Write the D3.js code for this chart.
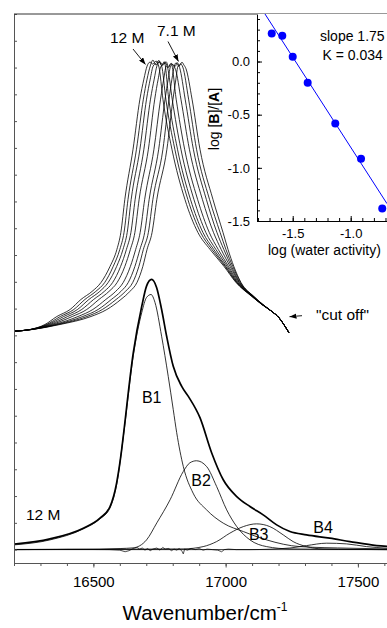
<!DOCTYPE html>
<html><head><meta charset="utf-8">
<script src="https://cdn.jsdelivr.net/npm/d3@7"></script>
<style>
body{margin:0;background:#fff}
svg{display:block}
text{font-family:"Liberation Sans",Arial,sans-serif;fill:#000}
</style>
</head><body><svg id="c" width="387" height="628"></svg>
<script>
// ---------- main spectra (wavenumber / absorbance) ----------
const upperAbs = [0.4077,0.4109,0.4203,0.4352,0.4483,0.4670,0.4820,0.4988,0.5287,0.5605,0.5923,0.6540,0.7475,0.8410,0.8784,0.9027,0.9102,0.9065,0.9121,0.9009,0.8410,0.7475,0.6540,0.5923,0.5605,0.5287,0.4988,0.4726,0.4576,0.4445,0.4333,0.4203,0.4053];
const upper12M  = [16200,16260,16317,16362,16412,16453,16495,16529,16563,16589,16604,16619,16650,16676,16691,16703,16714,16725,16737,16748,16763,16797,16846,16895,16941,16994,17039,17099,17137,17175,17201,17220,17239];
const upperB    = [16200,16261,16323,16375,16426,16468,16509,16543,16575,16600,16616,16631,16663,16689,16703,16715,16725,16736,16748,16758,16774,16808,16857,16905,16948,16998,17041,17100,17137,17175,17201,17220,17239];
const upperC    = [16200,16262,16328,16388,16440,16483,16524,16556,16588,16612,16628,16643,16676,16701,16715,16726,16737,16747,16758,16768,16785,16818,16867,16914,16955,17001,17043,17101,17138,17175,17201,17220,17239];
const upperD    = [16200,16263,16335,16403,16456,16501,16541,16573,16603,16625,16642,16658,16691,16716,16730,16740,16750,16760,16771,16781,16798,16831,16880,16925,16963,17006,17045,17102,17138,17175,17201,17220,17239];
const upperE    = [16200,16264,16343,16420,16475,16521,16559,16590,16619,16640,16657,16673,16708,16732,16745,16756,16765,16775,16784,16794,16813,16845,16894,16938,16972,17011,17048,17103,17139,17175,17201,17220,17239];
const upperF    = [16200,16265,16352,16442,16498,16547,16584,16613,16640,16660,16677,16694,16729,16754,16766,16776,16784,16793,16802,16811,16831,16863,16912,16954,16983,17017,17051,17104,17139,17175,17201,17220,17239];
const upperG    = [16200,16266,16360,16460,16518,16568,16604,16632,16657,16676,16694,16711,16747,16771,16783,16792,16800,16809,16817,16826,16847,16878,16927,16967,16993,17022,17053,17105,17140,17175,17201,17220,17239];
const upperH    = [16200,16267,16367,16476,16534,16586,16621,16649,16672,16689,16708,16725,16763,16786,16797,16806,16813,16822,16829,16838,16860,16890,16939,16979,17001,17027,17056,17106,17141,17175,17201,17220,17239];
const upper71M  = [16200,16268,16374,16491,16551,16604,16638,16665,16687,16703,16722,16740,16778,16801,16812,16820,16827,16835,16842,16850,16873,16903,16952,16990,17009,17031,17058,17107,17141,17175,17201,17220,17239];
// noisy peak-top absorbances (points 16-19) of each upper spectrum
const upperTops = [
  [0.9102,0.9065,0.9121,0.9009],
  [0.9140,0.9050,0.9100,0.9030],
  [0.9080,0.9130,0.9040,0.9110],
  [0.9120,0.9060,0.9090,0.8990],
  [0.9050,0.9110,0.9020,0.9080],
  [0.9000,0.9070,0.9040,0.8960],
  [0.9060,0.9020,0.9090,0.9000],
  [0.9090,0.9030,0.9070,0.9010],
  [0.9040,0.9100,0.9050,0.8980]
];

const totalWn = [16200,16336,16462,16525,16563,16588,16607,16613,16651,16683,16701,16720,16739,16758,16777,16802,16834,16859,16903,16947,16991,17042,17092,17142,17193,17243,17306,17394,17470,17571,17610];
const totalA  = [0.0101,0.0200,0.0400,0.0587,0.0804,0.1247,0.1865,0.2113,0.3679,0.4545,0.4919,0.5044,0.4894,0.4483,0.3983,0.3422,0.3048,0.2861,0.2463,0.1809,0.1304,0.0991,0.0804,0.0649,0.0462,0.0337,0.0275,0.0213,0.0150,0.0075,0.0060];
const b1Wn = [16200,16336,16462,16525,16563,16588,16613,16651,16683,16701,16718,16733,16758,16783,16802,16815,16840,16877,16928,16991,17067,17155,17281,17470,17610];
const b1A  = [0.0088,0.0181,0.0387,0.0574,0.0780,0.1210,0.2094,0.3622,0.4427,0.4707,0.4763,0.4614,0.3984,0.3235,0.2613,0.2183,0.1552,0.1055,0.0742,0.0494,0.0337,0.0181,0.0056,0.0026,0.0013];
const b2Wn = [16200,16525,16601,16650,16701,16740,16790,16840,16865,16890,16928,16966,17004,17042,17092,17155,17243,17610];
const b2A  = [0.0003,0.0010,0.0020,0.0032,0.0181,0.0500,0.0930,0.1459,0.1621,0.1659,0.1552,0.1178,0.0742,0.0430,0.0181,0.0056,0.0013,0];
const b3Wn = [16200,16839,16915,16966,17016,17067,17117,17167,17218,17255,17306,17368,17610];
const b3A  = [0,0.0013,0.0056,0.0150,0.0307,0.0430,0.0481,0.0430,0.0274,0.0150,0.0056,0.0013,0];
const b4Wn = [16200,17092,17243,17306,17382,17457,17533,17610];
const b4A  = [0,0,0.0030,0.0075,0.0120,0.0107,0.0056,0.0026];
const residWn = [16200,16400,16560,16600,16620,16635,16650,16665,16675,16685,16695,16705,16715,16725,16740,16752,16762,16772,16785,16795,16805,16815,16825,16835,16840,16845,16855,16870,16885,16900,16915,16930,16950,16970,16985,16995,17010,17040,17100,17300,17610];
const residA  = [0,0.0005,0,-0.001,-0.004,-0.002,0.002,0.004,0.001,0.003,-0.001,0.002,-0.002,0.001,0.003,-0.001,0.004,0.001,0.002,-0.002,0.001,-0.001,0.002,-0.003,-0.008,0.001,-0.001,0.002,0,0.002,-0.001,0.001,0,-0.001,-0.004,0,0.001,0,0,0,0];

const xMajorTicks = [16500,17000,17500];

// ---------- inset ----------
const logAw   = [-1.681,-1.590,-1.500,-1.371,-1.133,-0.911,-0.728];
const logBA   = [0.264,0.242,0.044,-0.200,-0.582,-0.915,-1.382];
const fitX    = [-1.808,-0.687];
const fitY    = [0.564,-1.337];
const insetXTicks = [-1.5,-1.0];
const insetYTicks = [-1.5,-1.0,-0.5,0.0];

// ---------- drawing ----------
const svg = d3.select("#c");
const x = d3.scaleLinear().domain([16200,17610]).range([14,387]);
const y = d3.scaleLinear().domain([-0.025,1.0]).range([563,14]);

const defs = svg.append("defs");
defs.append("clipPath").attr("id","mainClip").append("rect").attr("x",14).attr("y",14).attr("width",373).attr("height",549);
defs.append("clipPath").attr("id","insClip").append("rect").attr("x",257).attr("y",14).attr("width",130).attr("height",207);
defs.append("marker").attr("id","ah").attr("viewBox","0 0 8 6").attr("refX",8).attr("refY",3)
  .attr("markerWidth",7).attr("markerHeight",5.5).attr("markerUnits","userSpaceOnUse").attr("orient","auto")
  .append("path").attr("d","M0,0L8,3L0,6Z").attr("fill","#000");

const line = d3.line().x(d=>x(d[0])).y(d=>y(d[1])).curve(d3.curveMonotoneX);
const lineLin = d3.line().x(d=>x(d[0])).y(d=>y(d[1]));
const zip = (a,b)=>a.map((v,i)=>[v,b[i]]);

const main = svg.append("g").attr("clip-path","url(#mainClip)");
[upper12M,upperB,upperC,upperD,upperE,upperF,upperG,upperH,upper71M].forEach((w,k)=>{
  const abs = upperAbs.map((a,i)=> (i>=16 && i<=19) ? upperTops[k][i-16] : a);
  main.append("path").attr("d",line(zip(w,abs))).attr("fill","none").attr("stroke","#000").attr("stroke-width",0.8);
});
main.append("path").attr("d",lineLin(zip(residWn,residA))).attr("fill","none").attr("stroke","#222").attr("stroke-width",0.8);
[[b1Wn,b1A],[b2Wn,b2A],[b3Wn,b3A],[b4Wn,b4A]].forEach(([w,a])=>{
  main.append("path").attr("d",line(zip(w,a))).attr("fill","none").attr("stroke","#000").attr("stroke-width",0.8);
});
main.append("path").attr("d",line(zip(totalWn,totalA))).attr("fill","none").attr("stroke","#000").attr("stroke-width",1.7);

// main axes
const ax = svg.append("g").attr("transform","translate(0,563)");
ax.call(d3.axisBottom(x).tickValues(d3.range(16200,17601,100)).tickSize(3).tickSizeOuter(0).tickFormat(""));
const ax2 = svg.append("g").attr("transform","translate(0,563)");
ax2.call(d3.axisBottom(x).tickValues(xMajorTicks).tickSize(4.5).tickSizeOuter(0).tickPadding(9).tickFormat(d=>String(d)));
ax2.select(".domain").remove();
ax2.selectAll("text").attr("font-size",15).attr("font-family","Liberation Sans, Arial, sans-serif");
const ay = svg.append("g").attr("transform","translate(14,0)");
ay.call(d3.axisLeft(y).tickValues(d3.range(0,1.0001,0.05)).tickSize(-3).tickSizeOuter(0).tickFormat(""));
[ax,ax2,ay].forEach(g=>{g.selectAll("line,path").attr("stroke","#555");});
svg.append("line").attr("x1",14).attr("x2",387).attr("y1",14).attr("y2",14).attr("stroke","#333");

// main labels
svg.append("text").attr("x",205).attr("y",620).attr("text-anchor","middle").attr("font-size",20.5)
  .text("Wavenumber/cm").append("tspan").attr("font-size",12).attr("dy",-9).text("-1");
const lab=(t,xx,yy,fs,anchor)=>svg.append("text").attr("x",xx).attr("y",yy).attr("font-size",fs).attr("text-anchor",anchor||"start").text(t);
lab("12 M",110,42.5,15.5);
lab("7.1 M",157,36,15.5);
lab("\"cut off\"",316,320,15.5);
lab("B1",151.7,403,16,"middle");
lab("B2",201,486,16,"middle");
lab("B3",258.7,540,16,"middle");
lab("B4",323,533,16,"middle");
lab("12 M",26,520,15.5);
const arrow=(x1,y1,x2,y2)=>svg.append("line").attr("x1",x1).attr("y1",y1).attr("x2",x2).attr("y2",y2)
  .attr("stroke","#000").attr("stroke-width",0.9).attr("marker-end","url(#ah)");
arrow(133,49,145.5,64.5);
arrow(168,41.5,178.5,61.5);
arrow(302,315.7,289.5,316.7);

// ---------- inset ----------
const xi = d3.scaleLinear().domain([-1.808,-0.687]).range([257,387]);
const yi = d3.scaleLinear().domain([-1.5,0.447]).range([221,14]);
svg.append("rect").attr("x",257).attr("y",14).attr("width",130).attr("height",207).attr("fill","#fff");
const ins = svg.append("g").attr("clip-path","url(#insClip)");
ins.append("path").attr("d",d3.line().x(d=>xi(d[0])).y(d=>yi(d[1]))(zip(fitX,fitY)))
  .attr("fill","none").attr("stroke","#0000ff").attr("stroke-width",1);
ins.selectAll("circle").data(zip(logAw,logBA)).join("circle")
  .attr("cx",d=>xi(d[0])).attr("cy",d=>yi(d[1])).attr("r",4).attr("fill","#0000ff");

const fmt = d=>d.toFixed(1);
const iy1 = svg.append("g").attr("transform","translate(257,0)")
  .call(d3.axisLeft(yi).tickValues(d3.range(-1.5,0.41,0.1)).tickSize(-3).tickSizeOuter(0).tickFormat(""));
const iy2 = svg.append("g").attr("transform","translate(257,0)")
  .call(d3.axisLeft(yi).tickValues(insetYTicks).tickSize(-5).tickSizeOuter(0).tickPadding(7).tickFormat(fmt));
iy2.select(".domain").remove();
const ix1 = svg.append("g").attr("transform","translate(0,221)")
  .call(d3.axisBottom(xi).tickValues(d3.range(-1.8,-0.69,0.1)).tickSize(-3).tickSizeOuter(0).tickFormat(""));
const ix2 = svg.append("g").attr("transform","translate(0,221)")
  .call(d3.axisBottom(xi).tickValues(insetXTicks).tickSize(-5).tickSizeOuter(0).tickPadding(8).tickFormat(fmt));
ix2.select(".domain").remove();
[iy1,iy2,ix1,ix2].forEach(g=>{
  g.selectAll("line,path").attr("stroke","#000");
  g.selectAll("text").attr("font-size",13).attr("font-family","Liberation Sans, Arial, sans-serif");
});
svg.append("text").attr("x",268).attr("y",255).attr("font-size",14).text("log (water activity)");
const yt = svg.append("text").attr("transform","translate(219,119) rotate(-90)").attr("text-anchor","middle").attr("font-size",14);
yt.append("tspan").text("log [");
yt.append("tspan").attr("font-weight","bold").text("B");
yt.append("tspan").text("]/[");
yt.append("tspan").attr("font-weight","bold").text("A");
yt.append("tspan").text("]");
lab("slope 1.75",320,41,14);
lab("K = 0.034",322.5,60,14);
</script>
</body></html>
